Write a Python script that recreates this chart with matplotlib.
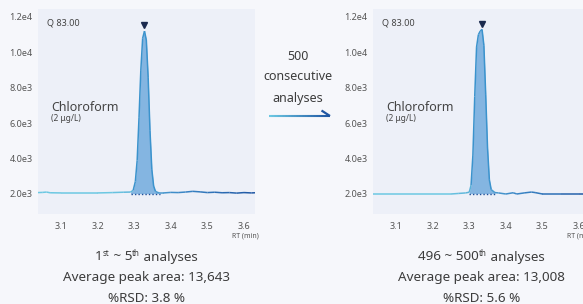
import numpy as np
import matplotlib
matplotlib.use("Agg")
import matplotlib.pyplot as plt
from matplotlib.collections import LineCollection
from matplotlib.colors import LinearSegmentedColormap

plt.rcParams['font.family'] = ['Noto Sans', 'DejaVu Sans']

# ---------------- data ----------------
yticks = [2000, 4000, 6000, 8000, 10000, 12000]
ytick_labels = ["2.0e3", "4.0e3", "6.0e3", "8.0e3", "1.0e4", "1.2e4"]
xticks = [3.1, 3.2, 3.3, 3.4, 3.5, 3.6]
xtick_labels = ["3.1", "3.2", "3.3", "3.4", "3.5", "3.6"]

rt_first = [3.037, 3.05, 3.06, 3.07, 3.10, 3.15, 3.20, 3.24, 3.27, 3.29, 3.297, 3.303,
            3.308, 3.313, 3.318, 3.323, 3.328, 3.333, 3.338, 3.343, 3.348, 3.353, 3.358,
            3.365, 3.37, 3.38, 3.40, 3.42, 3.44, 3.46, 3.48, 3.50, 3.52, 3.54, 3.56,
            3.58, 3.60, 3.62, 3.63]
int_first = [2080, 2090, 2110, 2070, 2060, 2060, 2060, 2080, 2100, 2110, 2200, 2700,
             3900, 6300, 9000, 10800, 11200, 10700, 8600, 5600, 3400, 2450, 2150,
             2080, 2060, 2060, 2090, 2080, 2110, 2150, 2120, 2080, 2100, 2070, 2080,
             2050, 2080, 2060, 2070]

rt_last = [3.037, 3.10, 3.15, 3.20, 3.25, 3.27, 3.29, 3.30, 3.305, 3.31, 3.315, 3.32,
           3.325, 3.33, 3.335, 3.34, 3.345, 3.35, 3.355, 3.36, 3.37, 3.38, 3.40, 3.42,
           3.43, 3.45, 3.47, 3.48, 3.50, 3.55, 3.60, 3.63]
int_last = [2000, 2000, 2000, 2000, 2000, 2030, 2060, 2100, 2500, 4200, 7500, 10300,
            11000, 11200, 11300, 10400, 7600, 4600, 2800, 2250, 2080, 2060, 2000, 2070,
            2000, 2060, 2110, 2080, 2000, 2000, 2000, 2000]

peak_first = (3.29, 3.37, 3.328, 11550)   # integration start, end, apex rt, marker height
peak_last = (3.30, 3.372, 3.334, 11600)

# caption pieces: (text, is_superscript)
caption_first = [[("1", False), ("st", True), (" ~ 5", False), ("th", True), (" analyses", False)],
                 [("Average peak area: 13,643", False)],
                 [("%RSD: 3.8 %", False)]]
caption_last = [[("496 ~ 500", False), ("th", True), (" analyses", False)],
                [("Average peak area: 13,008", False)],
                [("%RSD: 5.6 %", False)]]

panels = [
    dict(rt=rt_first, inten=int_first, peak=peak_first, lines=caption_first),
    dict(rt=rt_last, inten=int_last, peak=peak_last, lines=caption_last),
]

W, H = 583, 304
fig = plt.figure(figsize=(W / 100, H / 100), dpi=100)
fig.patch.set_facecolor('#f6f7fb')
renderer = fig.canvas.get_renderer()

cmap = LinearSegmentedColormap.from_list('g', ['#6cc8e2', '#6cc8e2', '#3a86c6', '#1f56a3'])
txt = '#3c3c3c'
tick_c = '#555555'

ov = fig.add_axes([0, 0, 1, 1], facecolor='none')
ov.set_xlim(0, W)
ov.set_ylim(H, 0)
ov.axis('off')


def rich_line(cx, y, pieces, size=9, color=txt):
    objs = []
    total = 0
    for s, sup in pieces:
        fs = size * 0.6 if sup else size
        t = ov.text(0, y - (4.2 if sup else 0), s, fontsize=fs, color=color,
                    ha='left', va='baseline')
        w = t.get_window_extent(renderer).width
        objs.append((t, w))
        total += w
    x = cx - total / 2
    for t, w in objs:
        t.set_x(x)
        x += w


axes_left = [38, 373]
for (px, p) in zip(axes_left, panels):
    ax = fig.add_axes([px / W, (H - 214) / H, 217 / W, 205 / H])
    ax.set_facecolor('#edf0f8')
    for s in ax.spines.values():
        s.set_visible(False)
    ax.set_xlim(3.037, 3.63)
    ax.set_ylim(870, 12450)
    ax.set_xticks(xticks, xtick_labels)
    ax.set_yticks(yticks, ytick_labels)
    ax.tick_params(length=0, labelsize=6.5, colors=tick_c, pad=4)
    ax.tick_params(axis='x', pad=6)

    rt = np.array(p['rt'])
    inten = np.array(p['inten'])
    s0, s1, apex, mk = p['peak']

    sel = (rt >= s0) & (rt <= s1)
    ax.fill_between(rt[sel], 2020, inten[sel], color='#7fb2e0', alpha=0.95, zorder=2, lw=0)
    ax.plot([s0, s1], [2020, 2020], color='#1f4f99', lw=1.0, ls=(0, (1, 1.5)), zorder=3)

    pts = np.column_stack([rt, inten]).reshape(-1, 1, 2)
    segs = np.concatenate([pts[:-1], pts[1:]], axis=1)
    mids = (rt[:-1] + rt[1:]) / 2
    cvals = (mids - 3.037) / (3.63 - 3.037)
    colors = cmap(cvals)
    pk = (mids > s0 + 0.005) & (mids < s1 - 0.01)
    colors[pk] = matplotlib.colors.to_rgba('#3b93cd')
    lc = LineCollection(segs, colors=colors, linewidths=1.1, zorder=4)
    ax.add_collection(lc)

    ax.plot([apex], [mk], marker='v', color='#1b2a4e', ms=4.5, zorder=5, clip_on=False)

    ax.text(0.04, 0.955, 'Q 83.00', transform=ax.transAxes, fontsize=6.5, color='#444444',
            va='top', ha='left')
    ax.text(0.06, 0.52, 'Chloroform', transform=ax.transAxes, fontsize=9, color='#444444',
            va='center', ha='left')
    ax.text(0.06, 0.465, '(2 μg/L)', transform=ax.transAxes, fontsize=6, color='#444444',
            va='center', ha='left')
    ax.text(3.605, -0.105, 'RT (min)', transform=ax.get_xaxis_transform(), fontsize=5,
            color=tick_c, ha='center', va='center')

    cx = px + 108.5
    for i, pieces in enumerate(p['lines']):
        rich_line(cx, 260.5 + 20.5 * i, pieces, size=9.7)

for i, line in enumerate(['500', 'consecutive', 'analyses']):
    fig.text(298 / W, 1 - (56 + 21 * i) / H, line, fontsize=9, color=txt,
             ha='center', va='center')

ax_x = np.linspace(269, 330, 40)
apts = np.column_stack([ax_x, np.full_like(ax_x, 116.0)]).reshape(-1, 1, 2)
asegs = np.concatenate([apts[:-1], apts[1:]], axis=1)
acol = LinearSegmentedColormap.from_list('a', ['#6cc8e2', '#1f56a3'])(np.linspace(0, 1, len(asegs)))
ov.add_collection(LineCollection(asegs, colors=acol, linewidths=1.5))
ov.plot([321.5, 330], [110.5, 116], color='#1f56a3', lw=1.6, solid_capstyle='butt')

fig.savefig('out.png', dpi=100, facecolor=fig.get_facecolor())
